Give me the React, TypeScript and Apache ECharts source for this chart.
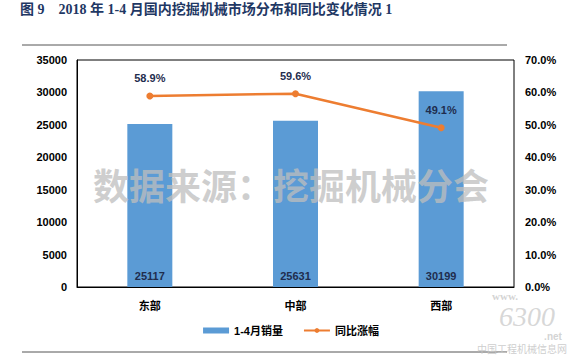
import React, { useEffect, useRef } from "react";
import * as echarts from "echarts";

const categories = ["东部", "中部", "西部"];
const sales = [25117, 25631, 30199];
const growth = [58.9, 59.6, 49.1];
const leftTicks = { min: 0, max: 35000, interval: 5000 };
const rightTicks = { min: 0, max: 70, interval: 10 };
const titleText = "图 9　2018 年 1-4 月国内挖掘机械市场分布和同比变化情况 1";
const watermarkText = "数据来源：挖掘机械分会";

export default function App() {
  const ref = useRef<HTMLDivElement>(null);
  useEffect(() => {
    if (!ref.current) return;
    const chart = echarts.init(ref.current, null, { renderer: "svg" });
    const font = "Liberation Sans, Noto Sans CJK SC, sans-serif";
    chart.setOption({
      animation: false,
      backgroundColor: "#fff",
      textStyle: { fontFamily: font },
      grid: {
        left: 77,
        right: 68,
        top: 60,
        bottom: 72,
        show: true,
        borderColor: "#000",
        borderWidth: 1,
        backgroundColor: "transparent",
      },
      legend: {
        bottom: 18,
        left: "center",
        itemGap: 20,
        itemWidth: 26,
        itemHeight: 6,
        textStyle: { fontSize: 11, fontWeight: "bold", color: "#000", fontFamily: font },
        data: [
          { name: "1-4月销量", icon: "rect" },
          { name: "同比涨幅" },
        ],
      },
      xAxis: {
        type: "category",
        data: categories,
        axisLine: { show: true, lineStyle: { color: "#000" } },
        axisTick: { show: false },
        axisLabel: { fontSize: 11, fontWeight: "bold", color: "#000", margin: 13 },
      },
      yAxis: [
        {
          type: "value",
          ...leftTicks,
          splitLine: { show: false },
          axisLine: { show: true, lineStyle: { color: "#000" } },
          axisTick: { show: false },
          axisLabel: {
            fontSize: 11,
            fontWeight: "bold",
            color: "#000",
            margin: 10,
            formatter: (v: number) => String(v),
          },
        },
        {
          type: "value",
          ...rightTicks,
          splitLine: { show: false },
          axisLine: { show: false },
          axisTick: { show: false },
          axisLabel: {
            fontSize: 11,
            fontWeight: "bold",
            color: "#000",
            margin: 11,
            formatter: (v: number) => v.toFixed(1) + "%",
          },
        },
      ],
      series: [
        {
          name: "1-4月销量",
          type: "bar",
          data: sales,
          barWidth: 45,
          itemStyle: { color: "#5B9BD5" },
          label: {
            show: true,
            position: "insideBottom",
            distance: 6,
            fontSize: 11,
            fontWeight: "bold",
            color: "#1F2D4E",
          },
        },
        {
          name: "同比涨幅",
          type: "line",
          yAxisIndex: 1,
          data: growth,
          symbol: "circle",
          symbolSize: 7,
          lineStyle: { color: "#ED7D31", width: 2.5 },
          itemStyle: { color: "#ED7D31" },
          label: {
            show: true,
            position: "top",
            distance: 9,
            fontSize: 11,
            fontWeight: "bold",
            color: "#1F2D4E",
            formatter: (p: any) => p.value.toFixed(1) + "%",
          },
        },
      ],
      graphic: [
        {
          type: "text",
          left: 20,
          top: 2,
          style: {
            text: titleText,
            fontSize: 14,
            fontWeight: "bold",
            fill: "#1F3864",
            fontFamily: "Liberation Serif, Noto Sans CJK SC, serif",
          },
        },
        {
          type: "line",
          shape: { x1: 22, y1: 45, x2: 507, y2: 45 },
          style: { stroke: "#555", lineWidth: 1 },
        },
        {
          type: "line",
          shape: { x1: 22, y1: 352, x2: 507, y2: 352 },
          style: { stroke: "#555", lineWidth: 1 },
        },
        {
          type: "text",
          x: 291,
          y: 184,
          z: 100,
          style: {
            text: watermarkText,
            fontSize: 36,
            fontWeight: "bold",
            fill: "rgba(190,190,190,0.75)",
            align: "center",
            verticalAlign: "middle",
            fontFamily: "Noto Sans CJK SC, sans-serif",
          },
        },
        {
          type: "text",
          x: 505,
          y: 296,
          z: 100,
          style: {
            text: "www.",
            fontSize: 11,
            fontWeight: "bold",
            fill: "rgba(200,200,200,0.8)",
            align: "center",
            verticalAlign: "middle",
            fontFamily: "Liberation Serif, serif",
          },
        },
        {
          type: "text",
          x: 527,
          y: 316,
          z: 100,
          style: {
            text: "6300",
            fontSize: 28,
            fontStyle: "italic",
            fill: "rgba(205,205,205,0.8)",
            align: "center",
            verticalAlign: "middle",
            fontFamily: "Liberation Serif, serif",
          },
        },
        {
          type: "text",
          x: 553,
          y: 336,
          z: 100,
          style: {
            text: ".net",
            fontSize: 10,
            fontWeight: "bold",
            fill: "rgba(200,200,200,0.8)",
            align: "center",
            verticalAlign: "middle",
            fontFamily: "Liberation Sans, sans-serif",
          },
        },
        {
          type: "text",
          x: 522,
          y: 348,
          z: 100,
          style: {
            text: "中国工程机械信息网",
            fontSize: 10,
            fill: "rgba(200,200,200,0.9)",
            align: "center",
            verticalAlign: "middle",
            fontFamily: "Noto Sans CJK SC, sans-serif",
          },
        },
      ],
    });
    return () => chart.dispose();
  }, []);
  return <div ref={ref} style={{ width: 582, height: 359, position: "absolute", left: 0, top: 0 }} />;
}
